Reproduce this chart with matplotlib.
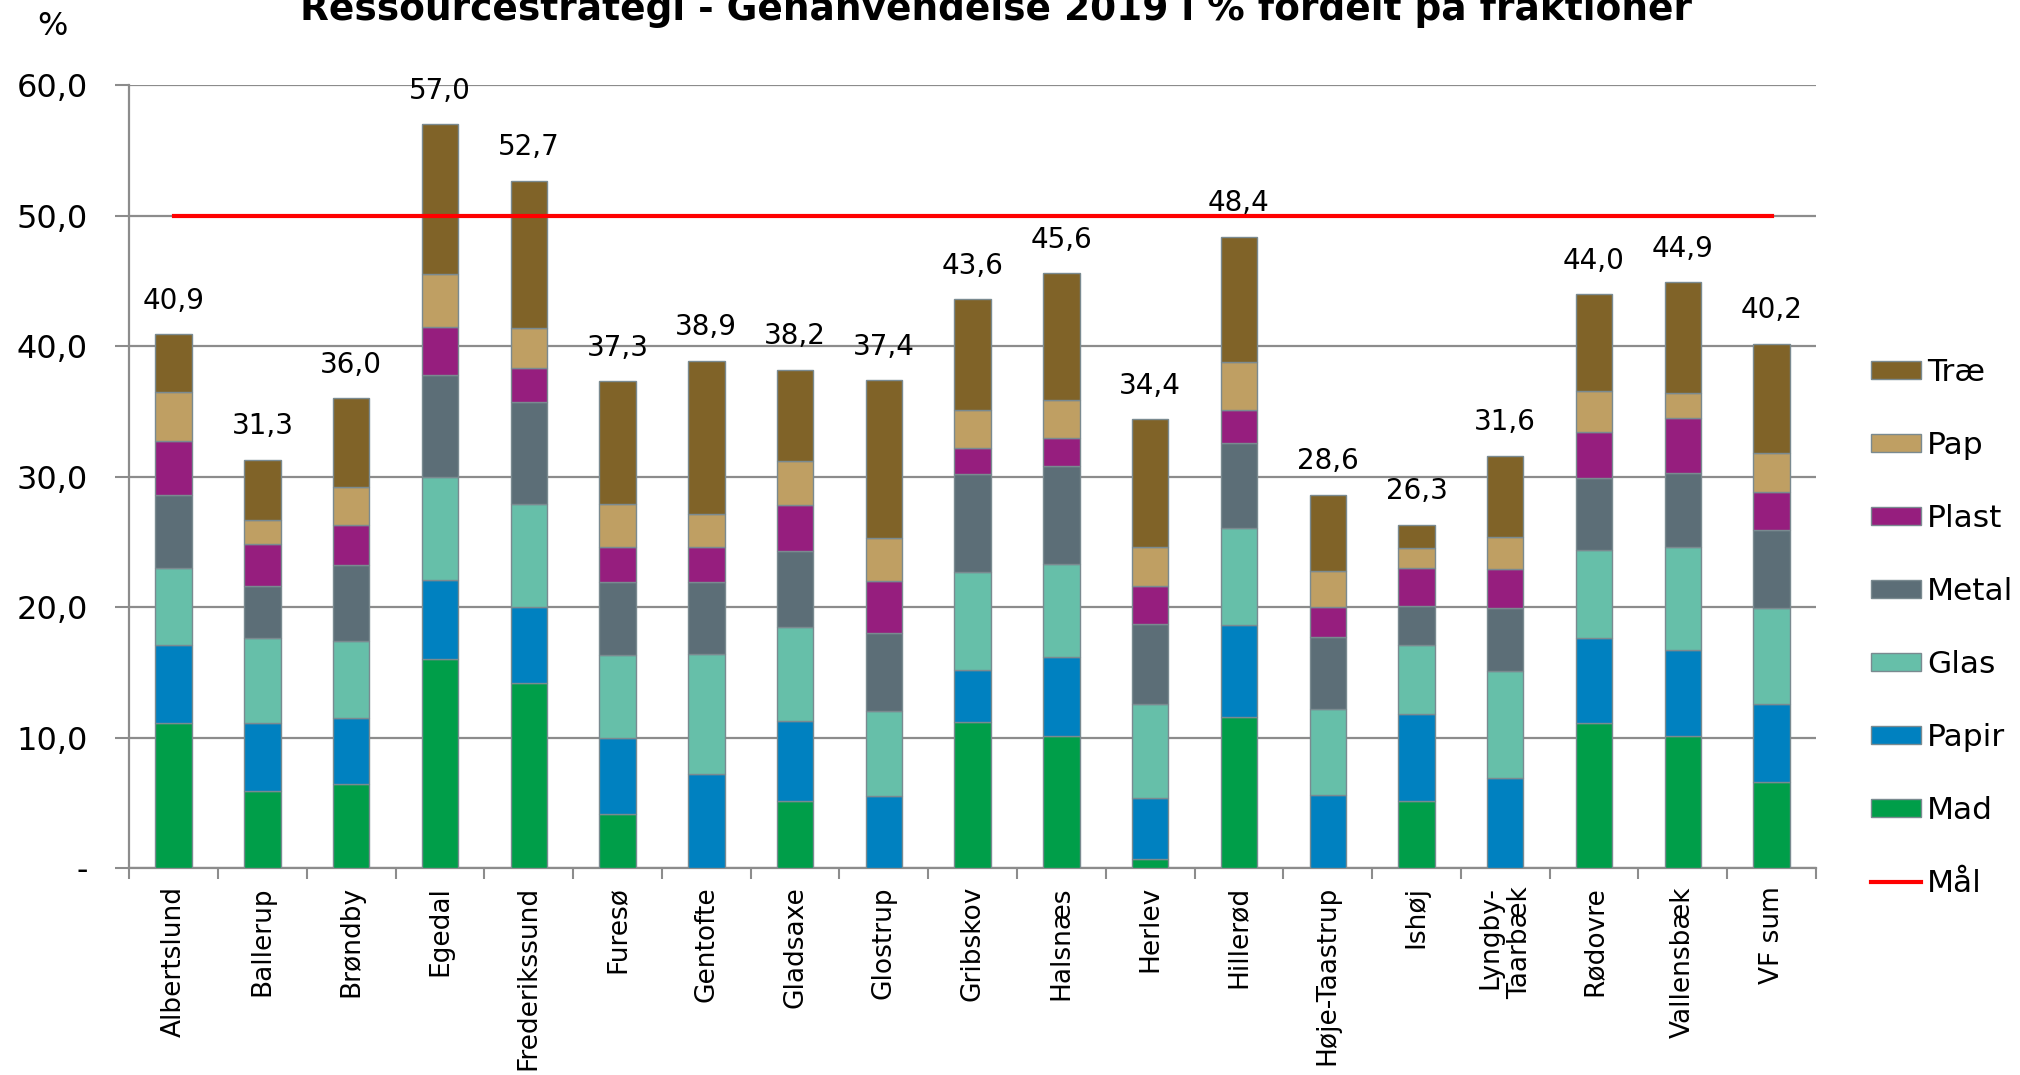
import matplotlib
matplotlib.use('Agg')
import matplotlib.pyplot as plt
import numpy as np

plt.rcParams['font.family'] = ['DejaVu Sans']

kommuner = ['Albertslund', 'Ballerup', 'Brøndby', 'Egedal', 'Frederikssund', 'Furesø',
            'Gentofte', 'Gladsaxe', 'Glostrup', 'Gribskov', 'Halsnæs', 'Herlev', 'Hillerød',
            'Høje-Taastrup', 'Ishøj', 'Lyngby-\nTaarbæk', 'Rødovre', 'Vallensbæk', 'VF sum']

# fraktioner, nederst -> øverst
mad   = [11.1, 5.9, 6.4, 16.0, 14.2, 4.1, 0.0, 5.1, 0.0, 11.2, 10.1, 0.7, 11.6, 0.0, 5.1, 0.0, 11.1, 10.1, 6.6]
papir = [6.0, 5.2, 5.1, 6.1, 5.8, 5.9, 7.2, 6.2, 5.5, 4.0, 6.1, 4.7, 7.0, 5.6, 6.7, 6.9, 6.5, 6.6, 6.0]
glas  = [5.9, 6.5, 5.9, 7.9, 7.9, 6.3, 9.2, 7.2, 6.5, 7.5, 7.1, 7.2, 7.5, 6.6, 5.3, 8.2, 6.8, 7.9, 7.3]
metal = [5.6, 4.0, 5.8, 7.8, 7.8, 5.6, 5.5, 5.8, 6.0, 7.5, 7.5, 6.1, 6.5, 5.5, 3.0, 4.8, 5.5, 5.7, 6.0]
plast = [4.1, 3.2, 3.1, 3.7, 2.6, 2.7, 2.7, 3.5, 4.0, 2.0, 2.2, 2.9, 2.5, 2.3, 2.9, 3.0, 3.5, 4.2, 2.9]
pap   = [3.8, 1.9, 2.9, 4.0, 3.1, 3.3, 2.5, 3.4, 3.3, 2.9, 2.9, 3.0, 3.7, 2.8, 1.5, 2.5, 3.2, 1.9, 3.0]
trae  = [4.4, 4.6, 6.8, 11.5, 11.3, 9.4, 11.8, 7.0, 12.1, 8.5, 9.7, 9.8, 9.6, 5.8, 1.8, 6.2, 7.4, 8.5, 8.4]
total = [40.9, 31.3, 36.0, 57.0, 52.7, 37.3, 38.9, 38.2, 37.4, 43.6, 45.6, 34.4, 48.4, 28.6, 26.3, 31.6, 44.0, 44.9, 40.2]
maal  = [50.0] * len(kommuner)

fraktioner = ['Mad', 'Papir', 'Glas', 'Metal', 'Plast', 'Pap', 'Træ']
farver = ['#009E49', '#0081C0', '#66BFA9', '#5C6E77', '#961E7E', '#BF9F63', '#806328']

fig = plt.figure(figsize=(20.2, 10.75), dpi=100)
ax = fig.add_axes([0.064, 0.1926, 0.835, 0.728])

x = np.arange(len(kommuner))
bottom = np.zeros(len(kommuner))
bars = []
for navn, data, c in zip(fraktioner, [mad, papir, glas, metal, plast, pap, trae], farver):
    b = ax.bar(x, data, width=0.41, bottom=bottom, color=c, edgecolor='#7a8a90',
               linewidth=1.0, label=navn, zorder=3)
    bars.append(b)
    bottom += np.array(data)

maal_line, = ax.plot(x, maal, color='#FF0000', linewidth=3, label='Mål', zorder=4)

# sum labels over søjlerne
for xi, t in zip(x, total):
    ax.annotate(f'{t:.1f}'.replace('.', ','), (xi, t), xytext=(0, 14),
                textcoords='offset points', ha='center', va='bottom', fontsize=20, zorder=5)

ax.set_xlim(-0.5, len(kommuner) - 0.5)
ax.set_ylim(0, 60)
ax.set_yticks(np.arange(0, 61, 10))
ax.set_yticklabels(['-'] + [f'{v:.1f}'.replace('.', ',') for v in np.arange(10, 61, 10)])
ax.yaxis.grid(True, color='#8c8c8c', linewidth=1.6, zorder=0)
ax.tick_params(axis='y', labelsize=23, length=10, width=1.5, color='#8c8c8c', pad=20)

ax.set_xticks(x)
ax.set_xticklabels(kommuner, rotation=90, fontsize=19, linespacing=1.2, multialignment='right')
ax.set_xticks(np.arange(-0.5, len(kommuner)), minor=True)
ax.tick_params(axis='x', which='major', length=0, pad=13)
ax.tick_params(axis='x', which='minor', length=8, width=1.5, color='#8c8c8c')

for s in ['top', 'right']:
    ax.spines[s].set_visible(False)
for s in ['left', 'bottom']:
    ax.spines[s].set_color('#8c8c8c')
    ax.spines[s].set_linewidth(1.6)

fig.text(0.493, 0.981, 'Ressourcestrategi - Genanvendelse 2019 i % fordelt på fraktioner',
         ha='center', va='baseline', fontsize=27, fontweight='bold')
fig.text(0.026, 0.975, '%', ha='center', va='center', fontsize=23)

handles = bars[::-1] + [maal_line]
labels = fraktioner[::-1] + ['Mål']
fig.legend(handles, labels, loc='upper left', bbox_to_anchor=(0.926, 0.667), frameon=False,
           fontsize=22.5, labelspacing=1.41, handlelength=1.6, handleheight=0.5,
           handletextpad=0.2, borderpad=0, borderaxespad=0)

fig.savefig('out.png', dpi=100)
